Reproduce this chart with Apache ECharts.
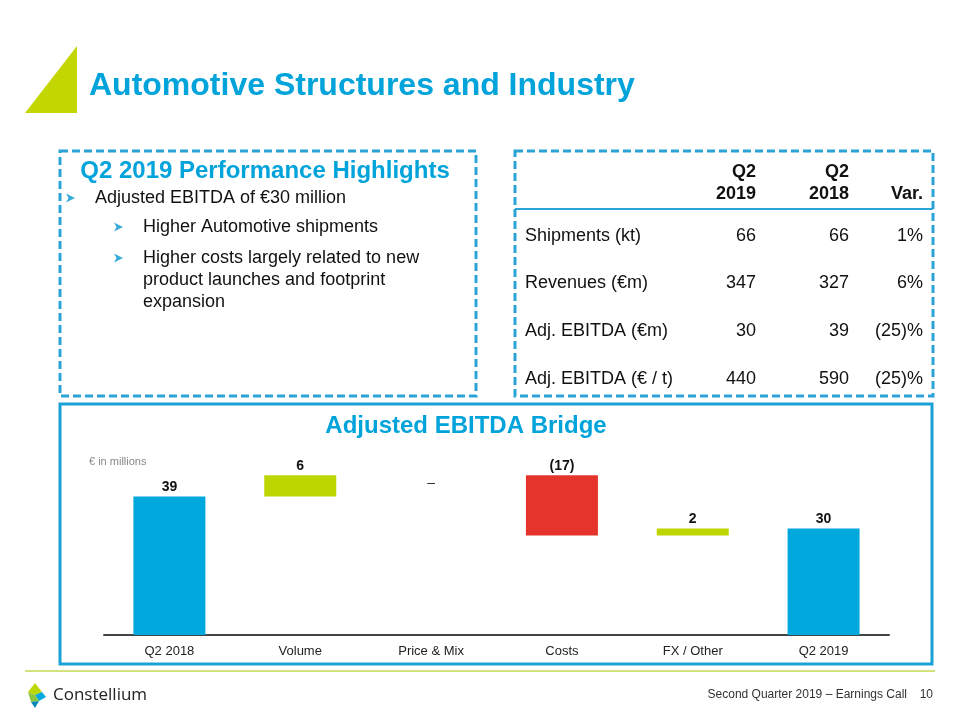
<!DOCTYPE html>
<html><head><meta charset="utf-8">
<script src="https://cdn.jsdelivr.net/npm/echarts@6.0.0/dist/echarts.min.js"></script>
<style>html,body{margin:0;padding:0;background:#fff}#c{width:960px;height:720px}</style>
</head><body><div id="c"></div>
<script>
// ---- data ----
const categories = ['Q2 2018', 'Volume', 'Price & Mix', 'Costs', 'FX / Other', 'Q2 2019'];
const deltas = [39, 6, 0, -17, 2, 30];
const isTotal = [true, false, false, false, false, true];
const barLabels = ['39', '6', '–', '(17)', '2', '30'];

const tableHeadTop = ['Q2', 'Q2', ''];
const tableHeadBottom = ['2019', '2018', 'Var.'];
const rowNames = ['Shipments (kt)', 'Revenues (€m)', 'Adj. EBITDA (€m)', 'Adj. EBITDA (€ / t)'];
const colQ2019 = ['66', '347', '30', '440'];
const colQ2018 = ['66', '327', '39', '590'];
const colVar = ['1%', '6%', '(25)%', '(25)%'];

const titleText = 'Automotive Structures and Industry';
const boxTitle = 'Q2 2019 Performance Highlights';
const bullet1 = 'Adjusted EBITDA of €30 million';
const subBullets = [['Higher Automotive shipments'], ['Higher costs largely related to new', 'product launches and footprint', 'expansion']];
const chartTitle = 'Adjusted EBITDA Bridge';
const unitNote = '€ in millions';
const footerText = 'Second Quarter 2019 – Earnings Call';
const pageNo = '10';
const brand = 'Constellium';

// ---- build waterfall ----
const BLUE = '#00A8DE', GREEN = '#BED600', RED = '#E4342C';
const bases = [], heights = [];
let running = 0;
deltas.forEach((d, i) => {
  if (isTotal[i]) { bases.push(0); heights.push(d); running = d; }
  else if (d >= 0) { bases.push(running); heights.push(d); running += d; }
  else { running += d; bases.push(running); heights.push(-d); }
});
const visData = heights.map((h, i) => {
  const item = { value: h, itemStyle: { color: isTotal[i] ? BLUE : (deltas[i] > 0 ? GREEN : (deltas[i] < 0 ? RED : 'rgba(0,0,0,0)')) } };
  if (deltas[i] === 0 && !isTotal[i]) {
    item.label = { position: 'inside', offset: [0, 8], fontWeight: 'normal', color: '#333' };
  }
  return item;
});

// ---- graphics ----
const FRAME = '#2AA3D6', TBLUE = '#00A3DA';
const SANS = '"Liberation Sans", Arial, sans-serif';
const g = [];
// title triangle
g.push({ type: 'polygon', shape: { points: [[25, 113], [77, 46], [77, 113]] }, style: { fill: '#C3D600' } });
g.push({ type: 'text', style: { text: titleText, x: 89, y: 86, font: 'bold 32px ' + SANS, fill: TBLUE, verticalAlign: 'middle' } });
// dashed boxes
g.push({ type: 'rect', shape: { x: 60, y: 151, width: 416, height: 245 }, style: { fill: 'none', stroke: FRAME, lineWidth: 3, lineDash: [8, 4] } });
g.push({ type: 'rect', shape: { x: 515, y: 151, width: 418, height: 245 }, style: { fill: 'none', stroke: FRAME, lineWidth: 3, lineDash: [8, 4] } });
// left box text
g.push({ type: 'text', style: { text: boxTitle, x: 265, y: 171, font: 'bold 24px ' + SANS, fill: TBLUE, align: 'center', verticalAlign: 'middle' } });
function arrow(x, y) {
  g.push({ type: 'polygon', shape: { points: [[x - 4, y - 4.5], [x + 5, y], [x - 4, y + 4.5], [x - 1.5, y]] }, style: { fill: '#3AAAD9' } });
}
arrow(70, 198);
g.push({ type: 'text', style: { text: bullet1, x: 95, y: 198, font: '18px ' + SANS, fill: '#111', verticalAlign: 'middle' } });
const subY = [[227], [258, 280, 302]];
subBullets.forEach((lines, i) => {
  arrow(118, subY[i][0]);
  lines.forEach((t, j) => g.push({ type: 'text', style: { text: t, x: 143, y: subY[i][j], font: '18px ' + SANS, fill: '#111', verticalAlign: 'middle' } }));
});
// table
const colX = [756, 849, 923];
tableHeadTop.forEach((t, i) => g.push({ type: 'text', style: { text: t, x: colX[i], y: 172, font: 'bold 18px ' + SANS, fill: '#111', align: 'right', verticalAlign: 'middle' } }));
tableHeadBottom.forEach((t, i) => g.push({ type: 'text', style: { text: t, x: colX[i], y: 194, font: 'bold 18px ' + SANS, fill: '#111', align: 'right', verticalAlign: 'middle' } }));
g.push({ type: 'line', shape: { x1: 515, y1: 209, x2: 933, y2: 209 }, style: { stroke: FRAME, lineWidth: 2 } });
const rowY = [236, 283, 331, 379];
rowNames.forEach((t, i) => {
  g.push({ type: 'text', style: { text: t, x: 525, y: rowY[i], font: '18px ' + SANS, fill: '#111', verticalAlign: 'middle' } });
  [colQ2019, colQ2018, colVar].forEach((col, c) => g.push({ type: 'text', style: { text: col[i], x: colX[c], y: rowY[i], font: '18px ' + SANS, fill: '#111', align: 'right', verticalAlign: 'middle' } }));
});
// chart frame
g.push({ type: 'rect', shape: { x: 60, y: 404, width: 872, height: 260 }, style: { fill: 'none', stroke: '#1BA1D5', lineWidth: 3 } });
g.push({ type: 'text', style: { text: chartTitle, x: 466, y: 426, font: 'bold 24px ' + SANS, fill: TBLUE, align: 'center', verticalAlign: 'middle' } });
g.push({ type: 'text', style: { text: unitNote, x: 89, y: 462, font: '11px ' + SANS, fill: '#888', verticalAlign: 'middle' } });
// footer
g.push({ type: 'line', shape: { x1: 25, y1: 671, x2: 935, y2: 671 }, style: { stroke: '#D3E27A', lineWidth: 2 } });
g.push({ type: 'polygon', shape: { points: [[35, 683], [42, 692], [35, 695], [28, 692]] }, style: { fill: '#BED600' } });
g.push({ type: 'polygon', shape: { points: [[35, 695], [42, 692], [46, 697], [39, 701]] }, style: { fill: '#00A8DE' } });
g.push({ type: 'polygon', shape: { points: [[28, 692], [35, 695], [39, 701], [31, 702]] }, style: { fill: '#8CC63F' } });
g.push({ type: 'polygon', shape: { points: [[31, 702], [39, 701], [35, 708]] }, style: { fill: '#0089B8' } });
g.push({ type: 'text', style: { text: brand, x: 53, y: 695, font: '17px "Open Sans", sans-serif', fill: '#222', verticalAlign: 'middle' } });
g.push({ type: 'text', style: { text: footerText, x: 907, y: 695, font: '12px ' + SANS, fill: '#333', align: 'right', verticalAlign: 'middle' } });
g.push({ type: 'text', style: { text: pageNo, x: 933, y: 695, font: '12px ' + SANS, fill: '#333', align: 'right', verticalAlign: 'middle' } });

const chart = echarts.init(document.getElementById('c'), null, { renderer: 'canvas' });
chart.setOption({
  animation: false,
  backgroundColor: '#fff',
  grid: { left: 104, right: 71, top: 457.5, bottom: 85 },
  xAxis: {
    type: 'category', data: categories,
    axisLine: { lineStyle: { color: '#444', width: 2 } },
    axisTick: { show: false },
    axisLabel: { color: '#222', fontSize: 13, fontFamily: SANS, margin: 10 }
  },
  yAxis: { type: 'value', min: 0, max: 50, show: false, splitLine: { show: false } },
  series: [
    { type: 'bar', stack: 'w', data: bases, barWidth: 72, itemStyle: { color: 'rgba(0,0,0,0)' }, silent: true },
    { type: 'bar', stack: 'w', data: visData, barWidth: 72,
      label: { show: true, position: 'top', distance: 2, formatter: p => barLabels[p.dataIndex],
        fontFamily: '"Liberation Sans Narrow", "Arial Narrow", sans-serif', fontWeight: 'bold', fontSize: 14, color: '#111' } }
  ],
  graphic: g
});
</script></body></html>
